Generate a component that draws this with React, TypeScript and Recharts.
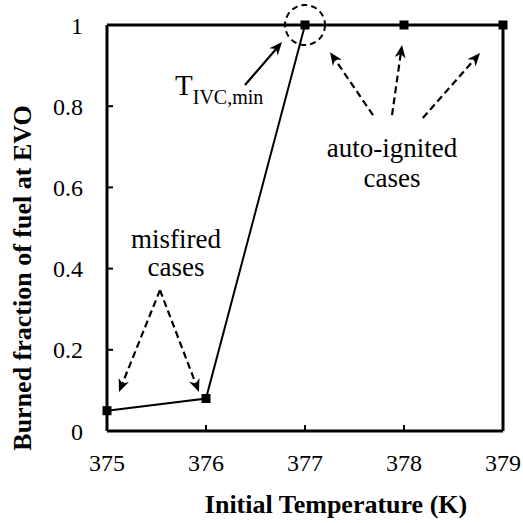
import React from "react";
import { LineChart, Line, XAxis, YAxis, ReferenceLine, ReferenceDot } from "recharts";

const temps = [375, 376, 377, 378, 379];
const burned = [0.05, 0.08, 1, 1, 1];
const xTicks = [375, 376, 377, 378, 379];
const yTicks = [0, 0.2, 0.4, 0.6, 0.8, 1];

const data = temps.map((t, i) => ({ t, f: burned[i] }));

const FONT = "Liberation Serif, DejaVu Serif, serif";

// annotation arrows, in data coordinates: from -> to, dashed?
const arrows: [number, number, number, number, boolean][] = [
  [376.394, 0.852, 376.768, 0.958, false],
  [375.535, 0.347, 375.121, 0.096, true],
  [375.535, 0.347, 375.929, 0.096, true],
  [377.687, 0.778, 377.253, 0.933, true],
  [377.879, 0.778, 377.98, 0.951, true],
  [378.19, 0.771, 378.768, 0.931, true],
];

// annotation texts: x, y, text
const notes: [number, number, string][] = [
  [375.697, 0.451, "misfired"],
  [375.697, 0.382, "cases"],
  [377.879, 0.675, "auto-ignited"],
  [377.879, 0.601, "cases"],
];

function Arrow(props: any) {
  const { x1, y1, x2, y2, dashed } = props;
  const a = Math.atan2(y2 - y1, x2 - x1);
  const c = Math.cos(a);
  const s = Math.sin(a);
  const len = 13;
  const half = 5.5;
  const bx = x2 - len * c;
  const by = y2 - len * s;
  const nx = x2 - len * 0.7 * c;
  const ny = y2 - len * 0.7 * s;
  const pts = `${x2},${y2} ${bx + half * s},${by - half * c} ${nx},${ny} ${bx - half * s},${by + half * c}`;
  return (
    <g>
      <line x1={x1} y1={y1} x2={nx} y2={ny} stroke="#000" strokeWidth={2.2}
        strokeDasharray={dashed ? "7 4" : undefined} />
      <polygon points={pts} fill="#000" />
    </g>
  );
}

function Square(props: any) {
  const { cx, cy, index } = props;
  return <rect key={index} x={cx - 4.5} y={cy - 4.5} width={9} height={9} fill="#000" />;
}

export default function App() {
  return (
    <div style={{ position: "absolute", left: 0, top: 0, width: 523, height: 523, background: "#fff", fontFamily: FONT }}>
      <LineChart width={523} height={523} data={data} style={{ fontFamily: FONT }}
        margin={{ top: 25, right: 20, left: 27, bottom: 32 }}>
        <XAxis dataKey="t" type="number" domain={[375, 379]} ticks={xTicks} interval={0}
          axisLine={{ stroke: "#000", strokeWidth: 3 }}
          tickLine={{ stroke: "#000", strokeWidth: 2 }}
          tickSize={-6} tickMargin={29} height={60}
          tick={{ fill: "#000", fontSize: 24, style: { fontFamily: FONT } }}
          label={{
            content: (p: any) => {
              const vb = p.viewBox;
              return (
                <text x={vb.x + vb.width / 2 + 31} y={vb.y + 82} textAnchor="middle"
                  style={{ fontFamily: FONT }} fontWeight="bold" fontSize={26} fill="#000">
                  Initial Temperature (K)
                </text>
              );
            },
          }}
        />
        <YAxis type="number" domain={[0, 1]} ticks={yTicks} interval={0} width={80}
          axisLine={{ stroke: "#000", strokeWidth: 3 }}
          tickLine={{ stroke: "#000", strokeWidth: 2 }}
          tickSize={-6} tickMargin={30}
          tick={{ fill: "#000", fontSize: 24, style: { fontFamily: FONT } }}
          label={{
            content: (p: any) => {
              const vb = p.viewBox;
              const x = vb.x + 4;
              const y = vb.y + vb.height / 2 + 50;
              return (
                <text x={x} y={y} textAnchor="middle" transform={`rotate(-90, ${x}, ${y})`}
                  style={{ fontFamily: FONT }} fontWeight="bold" fontSize={26} fill="#000">
                  Burned fraction of fuel at EVO
                </text>
              );
            },
          }}
        />
        <ReferenceLine y={1} stroke="#000" strokeWidth={3} ifOverflow="visible" />
        <ReferenceLine x={379} stroke="#000" strokeWidth={3} ifOverflow="visible" />
        <Line dataKey="f" stroke="#000" strokeWidth={2} dot={Square} activeDot={false}
          isAnimationActive={false} />
        <ReferenceDot x={377} y={1} r={20} fill="none" stroke="#000" strokeWidth={2}
          strokeDasharray="6 4" ifOverflow="visible" />
        {arrows.map((a, i) => (
          <ReferenceLine key={`a${i}`} ifOverflow="visible"
            segment={[{ x: a[0], y: a[1] }, { x: a[2], y: a[3] }]}
            shape={(p: any) => <Arrow {...p} dashed={a[4]} />} />
        ))}
        {notes.map((n, i) => (
          <ReferenceDot key={`n${i}`} x={n[0]} y={n[1]} r={0} ifOverflow="visible"
            shape={(p: any) => (
              <text x={p.cx} y={p.cy} textAnchor="middle" style={{ fontFamily: FONT }} fontSize={27} fill="#000">
                {n[2]}
              </text>
            )} />
        ))}
        <ReferenceDot x={375.687} y={0.828} r={0} ifOverflow="visible"
          shape={(p: any) => (
            <text x={p.cx} y={p.cy} style={{ fontFamily: FONT }} fill="#000">
              <tspan fontSize={29}>T</tspan>
              <tspan fontSize={20} dy={9}>IVC,min</tspan>
            </text>
          )} />
      </LineChart>
    </div>
  );
}
